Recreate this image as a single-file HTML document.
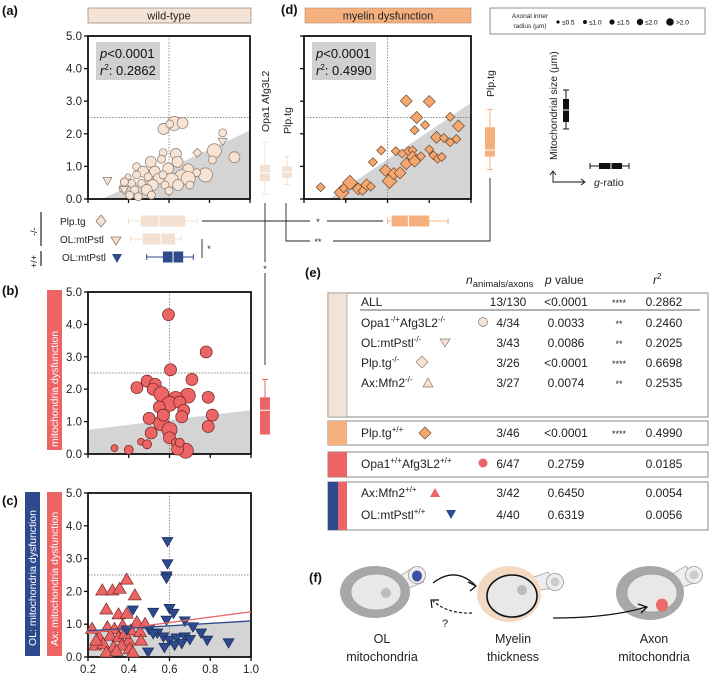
<!DOCTYPE html>
<html><head><meta charset="utf-8">
<style>
html,body{margin:0;padding:0;background:#fff;}
svg{display:block;font-family:"Liberation Sans",Arial,sans-serif;}
</style></head>
<body>
<svg id="fig" width="709" height="674" viewBox="0 0 709 674" xmlns="http://www.w3.org/2000/svg">
<g font-weight="bold" font-size="13" fill="#111">
<text x="2" y="15">(a)</text>
<text x="281" y="14">(d)</text>
<text x="2" y="295">(b)</text>
<text x="2" y="505">(c)</text>
<text x="305" y="277">(e)</text>
<text x="309" y="582">(f)</text>
</g>
<rect x="88" y="8" width="163" height="15" fill="#f5e4d6" stroke="#9a8a80" stroke-width="0.8"/>
<text x="169" y="19.5" font-size="11" text-anchor="middle" fill="#222">wild-type</text>
<rect x="305" y="8" width="166" height="15" fill="#f4b07f" stroke="#b98a66" stroke-width="0.6"/>
<text x="388" y="19.5" font-size="11" text-anchor="middle" fill="#222">myelin dysfunction</text>
<g>
<rect x="490" y="8" width="215" height="26" fill="#fff" stroke="#777" stroke-width="0.8"/>
<text x="530" y="18" font-size="6.5" text-anchor="middle" fill="#222">Axonal inner</text>
<text x="530" y="28" font-size="6.5" text-anchor="middle" fill="#222">radius (µm)</text>
<circle cx="558" cy="22" r="1.6" fill="#111"/><text x="562" y="24.5" font-size="6.5">≤0.5</text>
<circle cx="585" cy="22" r="2" fill="#111"/><text x="589" y="24.5" font-size="6.5">≤1.0</text>
<circle cx="612" cy="22" r="2.6" fill="#111"/><text x="617" y="24.5" font-size="6.5">≤1.5</text>
<circle cx="640" cy="22" r="3.2" fill="#111"/><text x="645" y="24.5" font-size="6.5">≤2.0</text>
<circle cx="670" cy="22" r="3.8" fill="#111"/><text x="676" y="24.5" font-size="6.5">&gt;2.0</text>
</g>
<g>
<text transform="translate(557,160) rotate(-90)" font-size="10.5" fill="#222">Mitochondrial size (µm)</text>
<line x1="566" y1="90" x2="566" y2="129" stroke="#111"/>
<line x1="563" y1="90" x2="569" y2="90" stroke="#111"/><line x1="563" y1="129" x2="569" y2="129" stroke="#111"/>
<rect x="563" y="99" width="6" height="23" fill="#111"/><line x1="563" y1="110" x2="569" y2="110" stroke="#fff"/>
<line x1="590" y1="166" x2="629" y2="166" stroke="#111"/>
<line x1="590" y1="163" x2="590" y2="169" stroke="#111"/><line x1="629" y1="163" x2="629" y2="169" stroke="#111"/>
<rect x="599" y="163" width="23" height="6" fill="#111"/><line x1="611" y1="163" x2="611" y2="169" stroke="#fff"/>
<path d="M553,172 L553,182 L584,182" fill="none" stroke="#111" stroke-width="0.9"/>
<path d="M550,175 L553,171 L556,175 M581,179 L585,182 L581,185" fill="none" stroke="#111" stroke-width="0.9"/>
<text x="594" y="186" font-size="10.5" fill="#222"><tspan font-style="italic">g</tspan>-ratio</text>
</g>
<rect x="47" y="290" width="15" height="160" fill="#ec6464"/>
<text transform="translate(58,447) rotate(-90)" font-size="10.5" fill="#fff">mitochondria dysfunction</text>
<rect x="25" y="492" width="15" height="164" fill="#2d4a8e"/>
<text transform="translate(36,646) rotate(-90)" font-size="10.5" fill="#fff">OL: mitochondria dysfunction</text>
<rect x="47" y="492" width="15" height="164" fill="#ec6464"/>
<text transform="translate(58,646) rotate(-90)" font-size="10.5" fill="#fff">Ax: mitochondria dysfunction</text>
<text transform="translate(269,132) rotate(-90)" font-size="10.5" fill="#222">Opa1 Afg3L2</text>
<text transform="translate(291,134) rotate(-90)" font-size="10.5" fill="#222">Plp.tg</text>
<text transform="translate(494,97) rotate(-90)" font-size="10.5" fill="#222">Plp.tg</text>
<text x="60" y="225" font-size="10" fill="#222">Plp.tg</text>
<text x="60" y="243" font-size="10" fill="#222">OL:mtPstl</text>
<text x="62" y="261" font-size="10" fill="#222">OL:mtPstl</text>
<polygon points="101,215 106,221 101,227 96,221" fill="#f6e2d3" stroke="#8a7a70" stroke-width="0.8"/>
<polygon points="111,237 121,237 116,245" fill="#f6e2d3" stroke="#8a7a70" stroke-width="0.8"/>
<polygon points="112,254 122,254 117,263" fill="#2d4a8e"/>
<text transform="translate(37,236) rotate(-90)" font-size="9" fill="#222">-/-</text>
<line x1="41" y1="212" x2="41" y2="246" stroke="#222" stroke-width="1.2"/>
<text transform="translate(37,268) rotate(-90)" font-size="9" fill="#222">+/+</text>
<line x1="41" y1="251" x2="41" y2="266" stroke="#222" stroke-width="1.2"/>
<g stroke="#222" stroke-width="0.9" fill="none">
<line x1="202" y1="221" x2="310" y2="221"/><line x1="327" y1="221" x2="383" y2="221"/>
<line x1="265" y1="203" x2="265" y2="262"/><line x1="265" y1="273" x2="265" y2="365"/>
<path d="M286,203 L286,241 L310,241"/><path d="M333,241 L490,241 L490,178"/>
<line x1="202" y1="239" x2="202" y2="258"/>
</g>
<g font-size="9" fill="#222" text-anchor="middle">
<text x="318" y="225">*</text><text x="318" y="245">**</text><text x="265" y="272">*</text><text x="209" y="252">*</text>
</g>
<g font-size="12" fill="#222">
<text x="466" y="284" font-size="12"><tspan font-style="italic">n</tspan><tspan font-size="9.5" dy="3">animals/axons</tspan></text>
<text x="545" y="284"><tspan font-style="italic">p</tspan> value</text>
<text x="653" y="284"><tspan font-style="italic">r</tspan><tspan font-size="8" dy="-5">2</tspan></text>
<rect x="328" y="293" width="380" height="124" fill="#fff" stroke="#888"/>
<rect x="328" y="293" width="19" height="124" fill="#f3e3d6" stroke="#888" stroke-width="0.6"/>
<rect x="328" y="421" width="380" height="24" fill="#fff" stroke="#888"/>
<rect x="328" y="421" width="19" height="24" fill="#f4b07f"/>
<rect x="328" y="452" width="380" height="25" fill="#fff" stroke="#888"/>
<rect x="328" y="452" width="19" height="25" fill="#ec6464"/>
<rect x="328" y="482" width="380" height="48" fill="#fff" stroke="#888"/>
<rect x="328" y="482" width="10" height="48" fill="#2d4a8e"/>
<rect x="338" y="482" width="9" height="48" fill="#ec6464"/>
<line x1="360" y1="310" x2="700" y2="310" stroke="#333" stroke-width="0.8"/>
<text x="361" y="306">ALL</text><text x="508" y="306" text-anchor="middle">13/130</text><text x="566" y="306" text-anchor="middle">&lt;0.0001</text><text x="619" y="306" text-anchor="middle" font-size="9">****</text><text x="664" y="306" text-anchor="middle">0.2862</text>
<text x="361" y="327">Opa1<tspan font-size="8" dy="-5">-/+</tspan><tspan dy="5">Afg3L2</tspan><tspan font-size="8" dy="-5">-/-</tspan></text>
<text x="508" y="327" text-anchor="middle">4/34</text><text x="566" y="327" text-anchor="middle">0.0033</text><text x="619" y="327" text-anchor="middle" font-size="9">**</text><text x="664" y="327" text-anchor="middle">0.2460</text>
<circle cx="483" cy="322" r="4.5" fill="#f6e2d3" stroke="#8a7a70" stroke-width="0.7"/>
<text x="361" y="347">OL:mtPstl<tspan font-size="8" dy="-5">-/-</tspan></text>
<polygon points="440,339 450,339 445,347" fill="#f6e2d3" stroke="#8a7a70" stroke-width="0.7"/>
<text x="508" y="347" text-anchor="middle">3/43</text><text x="566" y="347" text-anchor="middle">0.0086</text><text x="619" y="347" text-anchor="middle" font-size="9">**</text><text x="664" y="347" text-anchor="middle">0.2025</text>
<text x="361" y="367">Plp.tg<tspan font-size="8" dy="-5">-/-</tspan></text>
<polygon points="422,356 428,362 422,368 416,362" fill="#f6e2d3" stroke="#8a7a70" stroke-width="0.7"/>
<text x="508" y="367" text-anchor="middle">3/26</text><text x="566" y="367" text-anchor="middle">&lt;0.0001</text><text x="619" y="367" text-anchor="middle" font-size="9">****</text><text x="664" y="367" text-anchor="middle">0.6698</text>
<text x="361" y="387">Ax:Mfn2<tspan font-size="8" dy="-5">-/-</tspan></text>
<polygon points="423,387 433,387 428,378" fill="#f6e2d3" stroke="#8a7a70" stroke-width="0.7"/>
<text x="508" y="387" text-anchor="middle">3/27</text><text x="566" y="387" text-anchor="middle">0.0074</text><text x="619" y="387" text-anchor="middle" font-size="9">**</text><text x="664" y="387" text-anchor="middle">0.2535</text>
<text x="361" y="437">Plp.tg<tspan font-size="8" dy="-5">+/+</tspan></text>
<polygon points="425,427 431,433 425,439 419,433" fill="#f4a76e" stroke="#6b4a30" stroke-width="0.7"/>
<text x="508" y="437" text-anchor="middle">3/46</text><text x="566" y="437" text-anchor="middle">&lt;0.0001</text><text x="619" y="437" text-anchor="middle" font-size="9">****</text><text x="664" y="437" text-anchor="middle">0.4990</text>
<text x="361" y="468">Opa1<tspan font-size="8" dy="-5">+/+</tspan><tspan dy="5">Afg3L2</tspan><tspan font-size="8" dy="-5">+/+</tspan></text>
<circle cx="483" cy="463" r="4.5" fill="#ec6464"/>
<text x="508" y="468" text-anchor="middle">6/47</text><text x="566" y="468" text-anchor="middle">0.2759</text><text x="664" y="468" text-anchor="middle">0.0185</text>
<text x="361" y="497">Ax:Mfn2<tspan font-size="8" dy="-5">+/+</tspan></text>
<polygon points="430,497 440,497 435,488" fill="#ec6464"/>
<text x="508" y="497" text-anchor="middle">3/42</text><text x="566" y="497" text-anchor="middle">0.6450</text><text x="664" y="497" text-anchor="middle">0.0054</text>
<text x="361" y="519">OL:mtPstl<tspan font-size="8" dy="-5">+/+</tspan></text>
<polygon points="446,510 456,510 451,519" fill="#2d4a8e"/>
<text x="508" y="519" text-anchor="middle">4/40</text><text x="566" y="519" text-anchor="middle">0.6319</text><text x="664" y="519" text-anchor="middle">0.0056</text>
</g>
<!-- panel (f) -->
<g>
<!-- OL cell -->
<path d="M400,576 L412,568 L424,582 L404,590 Z" fill="#eee" stroke="#999" stroke-width="0.7"/>
<circle cx="417" cy="575" r="8.5" fill="#eee" stroke="#999" stroke-width="0.8"/>
<ellipse cx="417" cy="576" rx="5" ry="5.5" fill="#3a4fa0"/>
<ellipse cx="375" cy="592" rx="35" ry="26" fill="#a8a8a8"/>
<ellipse cx="376" cy="592" rx="25" ry="18" fill="#e8e8e8" stroke="#999" stroke-width="0.7"/>
<ellipse cx="386" cy="593" rx="5" ry="5" fill="#bbb"/>
<!-- myelin cell -->
<path d="M534,577 L548,572 L558,588 L538,590 Z" fill="#eee" stroke="#999" stroke-width="0.7"/>
<circle cx="555" cy="582" r="8.5" fill="#eee" stroke="#999" stroke-width="0.8"/>
<ellipse cx="555" cy="582" rx="4.5" ry="4.5" fill="#ccc"/>
<ellipse cx="509" cy="594" rx="32" ry="28" fill="#f3d8c2"/>
<ellipse cx="512" cy="596" rx="25" ry="21" fill="#e8e8e8" stroke="#111" stroke-width="1.6"/>
<ellipse cx="522" cy="590" rx="5" ry="5" fill="#bbb"/>
<!-- axon cell -->
<path d="M672,574 L686,566 L698,582 L678,588 Z" fill="#eee" stroke="#999" stroke-width="0.7"/>
<circle cx="694" cy="575" r="8.5" fill="#eee" stroke="#999" stroke-width="0.8"/>
<ellipse cx="694" cy="575" rx="4.5" ry="4.5" fill="#ccc"/>
<ellipse cx="650" cy="593" rx="34" ry="27" fill="#a8a8a8"/>
<ellipse cx="652" cy="593" rx="25" ry="19" fill="#e8e8e8" stroke="#999" stroke-width="0.7"/>
<ellipse cx="662" cy="605" rx="6" ry="6.5" fill="#ef6a6a"/>
<!-- arrows -->
<path d="M433,583 Q455,566 475,585" fill="none" stroke="#111" stroke-width="1.3"/>
<path d="M468,582 L476,586 L470,591" fill="none" stroke="#111" stroke-width="1.3"/>
<path d="M472,613 Q448,614 433,601" fill="none" stroke="#111" stroke-width="1.2" stroke-dasharray="3,2"/>
<path d="M432,608 L431,600 L439,600" fill="none" stroke="#111" stroke-width="1.2"/>
<text x="445" y="627" font-size="11" text-anchor="middle" fill="#222">?</text>
<path d="M553,618 Q610,618 646,607" fill="none" stroke="#111" stroke-width="1.3"/>
<path d="M638,604 L647,607 L641,613" fill="none" stroke="#111" stroke-width="1.3"/>
<g font-size="12.5" text-anchor="middle" fill="#222">
<text x="382" y="643">OL</text><text x="382" y="661">mitochondria</text>
<text x="513" y="643">Myelin</text><text x="513" y="661">thickness</text>
<text x="654" y="643">Axon</text><text x="654" y="661">mitochondria</text>
</g>
</g>
<g id="charts"></g>
</svg>
<script>
// ---------- data ----------
const yTicks = ["0.0","1.0","2.0","3.0","4.0","5.0"];
const xTicks = ["0.2","0.4","0.6","0.8","1.0"];
const aX = [0.626,0.667,0.573,0.604,0.865,0.824,0.923,0.814,0.78,0.736,0.695,0.634,0.571,0.51,0.642,0.563,0.44,0.472,0.53,0.596,0.662,0.695,0.612,0.55,0.497,0.44,0.38,0.415,0.464,0.52,0.58,0.645,0.373,0.43,0.49,0.6,0.406,0.448,0.513,0.703,0.57,0.398,0.38];
const aY = [2.32,2.33,2.15,2.3,2.03,1.48,1.28,1.2,0.74,0.81,0.91,1.38,1.42,1.14,1.14,1.22,0.99,0.84,0.84,0.94,0.68,0.63,0.58,0.63,0.68,0.74,0.53,0.48,0.48,0.43,0.43,0.43,0.33,0.28,0.28,0.25,0.12,0.07,0.12,0.43,0.74,0.68,0.52];
const aS = [5,4,4,3,3,5,4,3,5,3,4,4,3,4,4,3,3,4,4,4,5,5,5,4,3,3,3,3,3,4,3,4,3,3,4,3,3,3,3,3,3,2,3];
const aTriX = [0.296,0.378,0.865];
const aTriY = [0.56,0.28,1.76];
const aDiaX = [0.74];
const aDiaY = [1.42];
const dX = [0.69,0.8,0.74,0.73,0.78,0.9,0.94,0.835,0.87,0.9,0.93,0.57,0.53,0.64,0.67,0.7,0.72,0.72,0.74,0.76,0.8,0.82,0.84,0.86,0.69,0.73,0.59,0.61,0.63,0.66,0.28,0.38,0.42,0.46,0.5,0.52,0.48,0.39];
const dY = [3.01,2.99,2.5,2.11,2.27,2.52,2.24,1.89,1.87,1.74,1.84,1.49,1.13,1.47,1.39,1.47,1.49,1.29,1.24,1.31,1.52,1.34,1.24,1.29,1.08,1.16,0.88,0.55,0.78,0.8,0.36,0.2,0.5,0.31,0.43,0.38,0.25,0.33];
const dS = [4,4,4,3,3,3,4,4,3,3,3,3,3,3,3,3,3,4,3,3,3,3,3,3,4,4,4,5,4,4,3,5,5,4,4,3,3,3];
const bX = [0.595,0.78,0.605,0.71,0.49,0.53,0.44,0.52,0.56,0.69,0.79,0.63,0.6,0.65,0.55,0.67,0.81,0.79,0.5,0.56,0.6,0.6,0.63,0.68,0.64,0.51,0.33,0.4,0.46,0.49,0.66,0.57,0.65];
const bY = [4.3,3.15,2.6,2.3,2.25,2.15,2.05,2.0,1.85,1.8,1.75,1.7,1.55,1.6,1.45,1.35,1.2,0.85,1.1,0.95,0.75,0.5,0.34,0.1,0.15,0.65,0.18,0.13,0.38,0.3,1.15,1.2,0.35];
const bS = [4,4,4,4,4,4,4,4,5,5,4,5,5,4,4,4,4,4,4,5,5,4,3,5,4,4,2,3,2,3,4,4,3];
const cRedX = [0.27,0.32,0.355,0.39,0.43,0.29,0.35,0.39,0.44,0.48,0.22,0.295,0.33,0.37,0.41,0.455,0.255,0.31,0.35,0.4,0.46,0.235,0.275,0.325,0.365,0.405,0.29,0.34,0.42,0.24,0.38];
const cRedY = [2.04,2.04,2.09,2.37,1.89,1.46,1.31,1.33,1.07,1.02,0.87,0.92,0.87,0.97,0.82,0.77,0.61,0.66,0.61,0.51,0.51,0.36,0.41,0.31,0.36,0.26,0.15,0.2,0.15,0.51,0.72];
const cBlueX = [0.59,0.59,0.585,0.585,0.6,0.62,0.585,0.675,0.52,0.715,0.755,0.5,0.54,0.57,0.6,0.635,0.675,0.7,0.785,0.89,0.495,0.575,0.625,0.42,0.39,0.52,0.66];
const cBlueY = [3.52,2.84,2.47,2.4,1.48,1.33,1.12,1.1,1.36,0.92,0.73,0.84,0.73,0.61,0.51,0.58,0.61,0.53,0.51,0.43,0.15,0.29,0.36,1.43,0.82,0.71,0.41];
const regA = [-0.776, 2.88];
const regD = [-1.39, 4.34];
const regB = [0.6, 0.75];
const regCBlue = [0.725, 0.375];
const regCRed = [0.555, 0.825];
const boxOpa = [0.15, 0.55, 0.8, 1.05, 1.75];
const boxPlpWT = [0.45, 0.65, 0.82, 1.0, 1.3];
const boxPlpTG = [0.9, 1.3, 1.5, 2.2, 2.75];
const boxOpaMut = [0.65, 0.6, 1.35, 1.75, 2.3];
const hPlpWT = [0.4, 0.46, 0.55, 0.68, 0.74];
const hOLWT = [0.41, 0.47, 0.56, 0.63, 0.66];
const hOLMut = [0.49, 0.57, 0.62, 0.67, 0.72];
const hPlpTG = [0.6, 0.62, 0.7, 0.8, 0.89];

const NS = "http://www.w3.org/2000/svg";
const root = document.getElementById('charts');
function mk(tag, attrs, parent) {
  const e = document.createElementNS(NS, tag);
  for (const k in attrs) e.setAttribute(k, attrs[k]);
  (parent || root).appendChild(e);
  return e;
}
const R = [0, 2.3, 3, 4, 5.5, 7];
function sx(p, v) { return p.x0 + (v - 0.2) / 0.8 * (p.x1 - p.x0); }
function sy(p, v) { return p.y1 - v / 5 * (p.y1 - p.y0); }
const A = {x0:88, x1:250, y0:36, y1:199, yl:true, xl:false};
const D = {x0:304, x1:471, y0:36, y1:199, yl:false, xl:false};
const B = {x0:88, x1:251, y0:292, y1:454, yl:true, xl:false};
const C = {x0:88, x1:251, y0:493, y1:657, yl:true, xl:true};

function shade(p, reg) {
  let pts = [];
  const n = 60;
  for (let i = 0; i <= n; i++) {
    const x = 0.2 + 0.8 * i / n;
    const y = Math.max(0, Math.min(5, reg[0] + reg[1] * x));
    pts.push(sx(p, x).toFixed(1) + ',' + sy(p, y).toFixed(1));
  }
  pts.push(sx(p, 1.0) + ',' + sy(p, 0));
  pts.push(sx(p, 0.2) + ',' + sy(p, 0));
  const e = mk('polygon', {points: pts.join(' '), fill: '#d4d4d4'});
  
  
}
function regLine(p, reg, color) {
  const e = mk('line', {x1: sx(p, 0.2), y1: sy(p, reg[0] + reg[1] * 0.2), x2: sx(p, 1.0), y2: sy(p, reg[0] + reg[1] * 1.0), stroke: color, 'stroke-width': 1.3});
  
  
}
function frame(p, name) {
  const g = mk('g', {});
  
  
  mk('line', {x1: sx(p, 0.6), y1: p.y0, x2: sx(p, 0.6), y2: p.y1, stroke: '#666', 'stroke-width': 0.7, 'stroke-dasharray': '1.5,1.5'}, g);
  mk('line', {x1: p.x0, y1: sy(p, 2.5), x2: p.x1, y2: sy(p, 2.5), stroke: '#666', 'stroke-width': 0.7, 'stroke-dasharray': '1.5,1.5'}, g);
  mk('rect', {x: p.x0, y: p.y0, width: p.x1 - p.x0, height: p.y1 - p.y0, fill: 'none', stroke: '#111', 'stroke-width': 1.8}, g);
  yTicks.forEach((t) => {
    const y = sy(p, parseFloat(t));
    mk('line', {x1: p.x0 - 4, y1: y, x2: p.x0, y2: y, stroke: '#111', 'stroke-width': 1.3}, g);
    if (p.yl) {
      const tx = mk('text', {x: p.x0 - 6, y: y + 4, 'font-size': 11.5, 'text-anchor': 'end', fill: '#222'}, g);
      tx.textContent = t;
    }
  });
  xTicks.forEach((t) => {
    const x = sx(p, parseFloat(t));
    mk('line', {x1: x, y1: p.y1, x2: x, y2: p.y1 + 4, stroke: '#111', 'stroke-width': 1.3}, g);
    if (p.xl) {
      const tx = mk('text', {x: x, y: p.y1 + 16, 'font-size': 11.5, 'text-anchor': 'middle', fill: '#222'}, g);
      tx.textContent = t;
    }
  });
}
function statBox(p, txt2) {
  mk('rect', {x: p.x0 + 8, y: p.y0 + 6, width: 64, height: 38, fill: '#d0d0d0'});
  const t1 = mk('text', {x: p.x0 + 12, y: p.y0 + 22, 'font-size': 13, fill: '#111'});
  t1.innerHTML = '<tspan font-style="italic">p</tspan>&lt;0.0001';
  const t2 = mk('text', {x: p.x0 + 12, y: p.y0 + 39, 'font-size': 13, fill: '#111'});
  t2.innerHTML = '<tspan font-style="italic">r</tspan><tspan font-size="8" dy="-5">2</tspan><tspan dy="5">: ' + txt2 + '</tspan>';
}
function circle(p, x, y, r, fill, stroke) {
  return mk('circle', {cx: sx(p, x), cy: sy(p, y), r: r, fill: fill, stroke: stroke, 'stroke-width': 0.7});
}
function diamond(p, x, y, r, fill, stroke) {
  const cx = sx(p, x), cy = sy(p, y);
  return mk('polygon', {points: `${cx},${cy-r} ${cx+r},${cy} ${cx},${cy+r} ${cx-r},${cy}`, fill: fill, stroke: stroke, 'stroke-width': 0.7});
}
function tri(p, x, y, r, up, fill, stroke) {
  const cx = sx(p, x), cy = sy(p, y);
  const pts = up ? `${cx-r},${cy+r*0.75} ${cx+r},${cy+r*0.75} ${cx},${cy-r*0.95}` : `${cx-r},${cy-r*0.75} ${cx+r},${cy-r*0.75} ${cx},${cy+r*0.95}`;
  return mk('polygon', {points: pts, fill: fill, stroke: stroke, 'stroke-width': 0.7});
}
function vbox(p, cx, b, color, name) {
  const g = mk('g', {stroke: color, fill: color});
  
  
  mk('line', {x1: cx, y1: sy(p, b[0]), x2: cx, y2: sy(p, b[4]), 'stroke-width': 1}, g);
  mk('line', {x1: cx - 3, y1: sy(p, b[0]), x2: cx + 3, y2: sy(p, b[0])}, g);
  mk('line', {x1: cx - 3, y1: sy(p, b[4]), x2: cx + 3, y2: sy(p, b[4])}, g);
  mk('rect', {x: cx - 5, y: sy(p, b[3]), width: 10, height: sy(p, b[1]) - sy(p, b[3]), stroke: 'none'}, g);
  mk('line', {x1: cx - 5, y1: sy(p, b[2]), x2: cx + 5, y2: sy(p, b[2]), stroke: '#fff'}, g);
}
function hbox(p, cy, b, color, name) {
  const g = mk('g', {stroke: color, fill: color});
  
  
  mk('line', {x1: sx(p, b[0]), y1: cy, x2: sx(p, b[4]), y2: cy}, g);
  mk('line', {x1: sx(p, b[0]), y1: cy - 3, x2: sx(p, b[0]), y2: cy + 3}, g);
  mk('line', {x1: sx(p, b[4]), y1: cy - 3, x2: sx(p, b[4]), y2: cy + 3}, g);
  mk('rect', {x: sx(p, b[1]), y: cy - 5.5, width: sx(p, b[3]) - sx(p, b[1]), height: 11, stroke: 'none'}, g);
  mk('line', {x1: sx(p, b[2]), y1: cy - 5.5, x2: sx(p, b[2]), y2: cy + 5.5, stroke: '#fff'}, g);
}

shade(A, regA); frame(A, 'panel-a');
aX.forEach((x, i) => { const e = circle(A, x, aY[i], R[aS[i]], '#f7e3d4', '#8a7a70');
  
   });
aTriX.forEach((x, i) => { const e = tri(A, x, aTriY[i], 4.5, false, '#f7e3d4', '#8a7a70');
  
   });
aDiaX.forEach((x, i) => { const e = diamond(A, x, aDiaY[i], 4.5, '#f7e3d4', '#8a7a70');
  
   });
statBox(A, '0.2862');
vbox(A, 265, boxOpa, '#f3e0d0', 'box-opa-wt');
vbox(A, 287, boxPlpWT, '#f3e0d0', 'box-plp-wt');
hbox(A, 221, hPlpWT, '#f3e0d0', 'hbox-plp-wt');
hbox(A, 239, hOLWT, '#f3e0d0', 'hbox-ol-wt');
hbox(A, 257, hOLMut, '#2d4a8e', 'hbox-ol-mut');

shade(D, regD); frame(D, 'panel-d');
dX.forEach((x, i) => { const e = diamond(D, x, dY[i], R[dS[i]] + 0.5, '#f4a76e', '#6b4a30');
  
   });
statBox(D, '0.4990');
vbox(D, 490, boxPlpTG, '#f4b07f', 'box-plp-tg');
hbox(D, 221, hPlpTG, '#f4b07f', 'hbox-plp-tg');

shade(B, regB); frame(B, 'panel-b');
bX.forEach((x, i) => { const e = circle(B, x, bY[i], R[bS[i]] + 0.5, '#ec6464', '#6a2020');
  
   });
vbox(B, 265, boxOpaMut, '#ec6464', 'box-opa-mut');

shade(C, regCBlue); frame(C, 'panel-c');
cRedX.forEach((x, i) => { const e = tri(C, x, cRedY[i], 6.5, true, '#ec6464', '#7a2a2a');
  
   });
cBlueX.forEach((x, i) => { const e = tri(C, x, cBlueY[i], 5.5, false, '#2d4a8e', '#1a2a55');
  
   });
regLine(C, regCRed, '#ec6464');
regLine(C, regCBlue, '#2d4a8e');
</script>
</body></html>
